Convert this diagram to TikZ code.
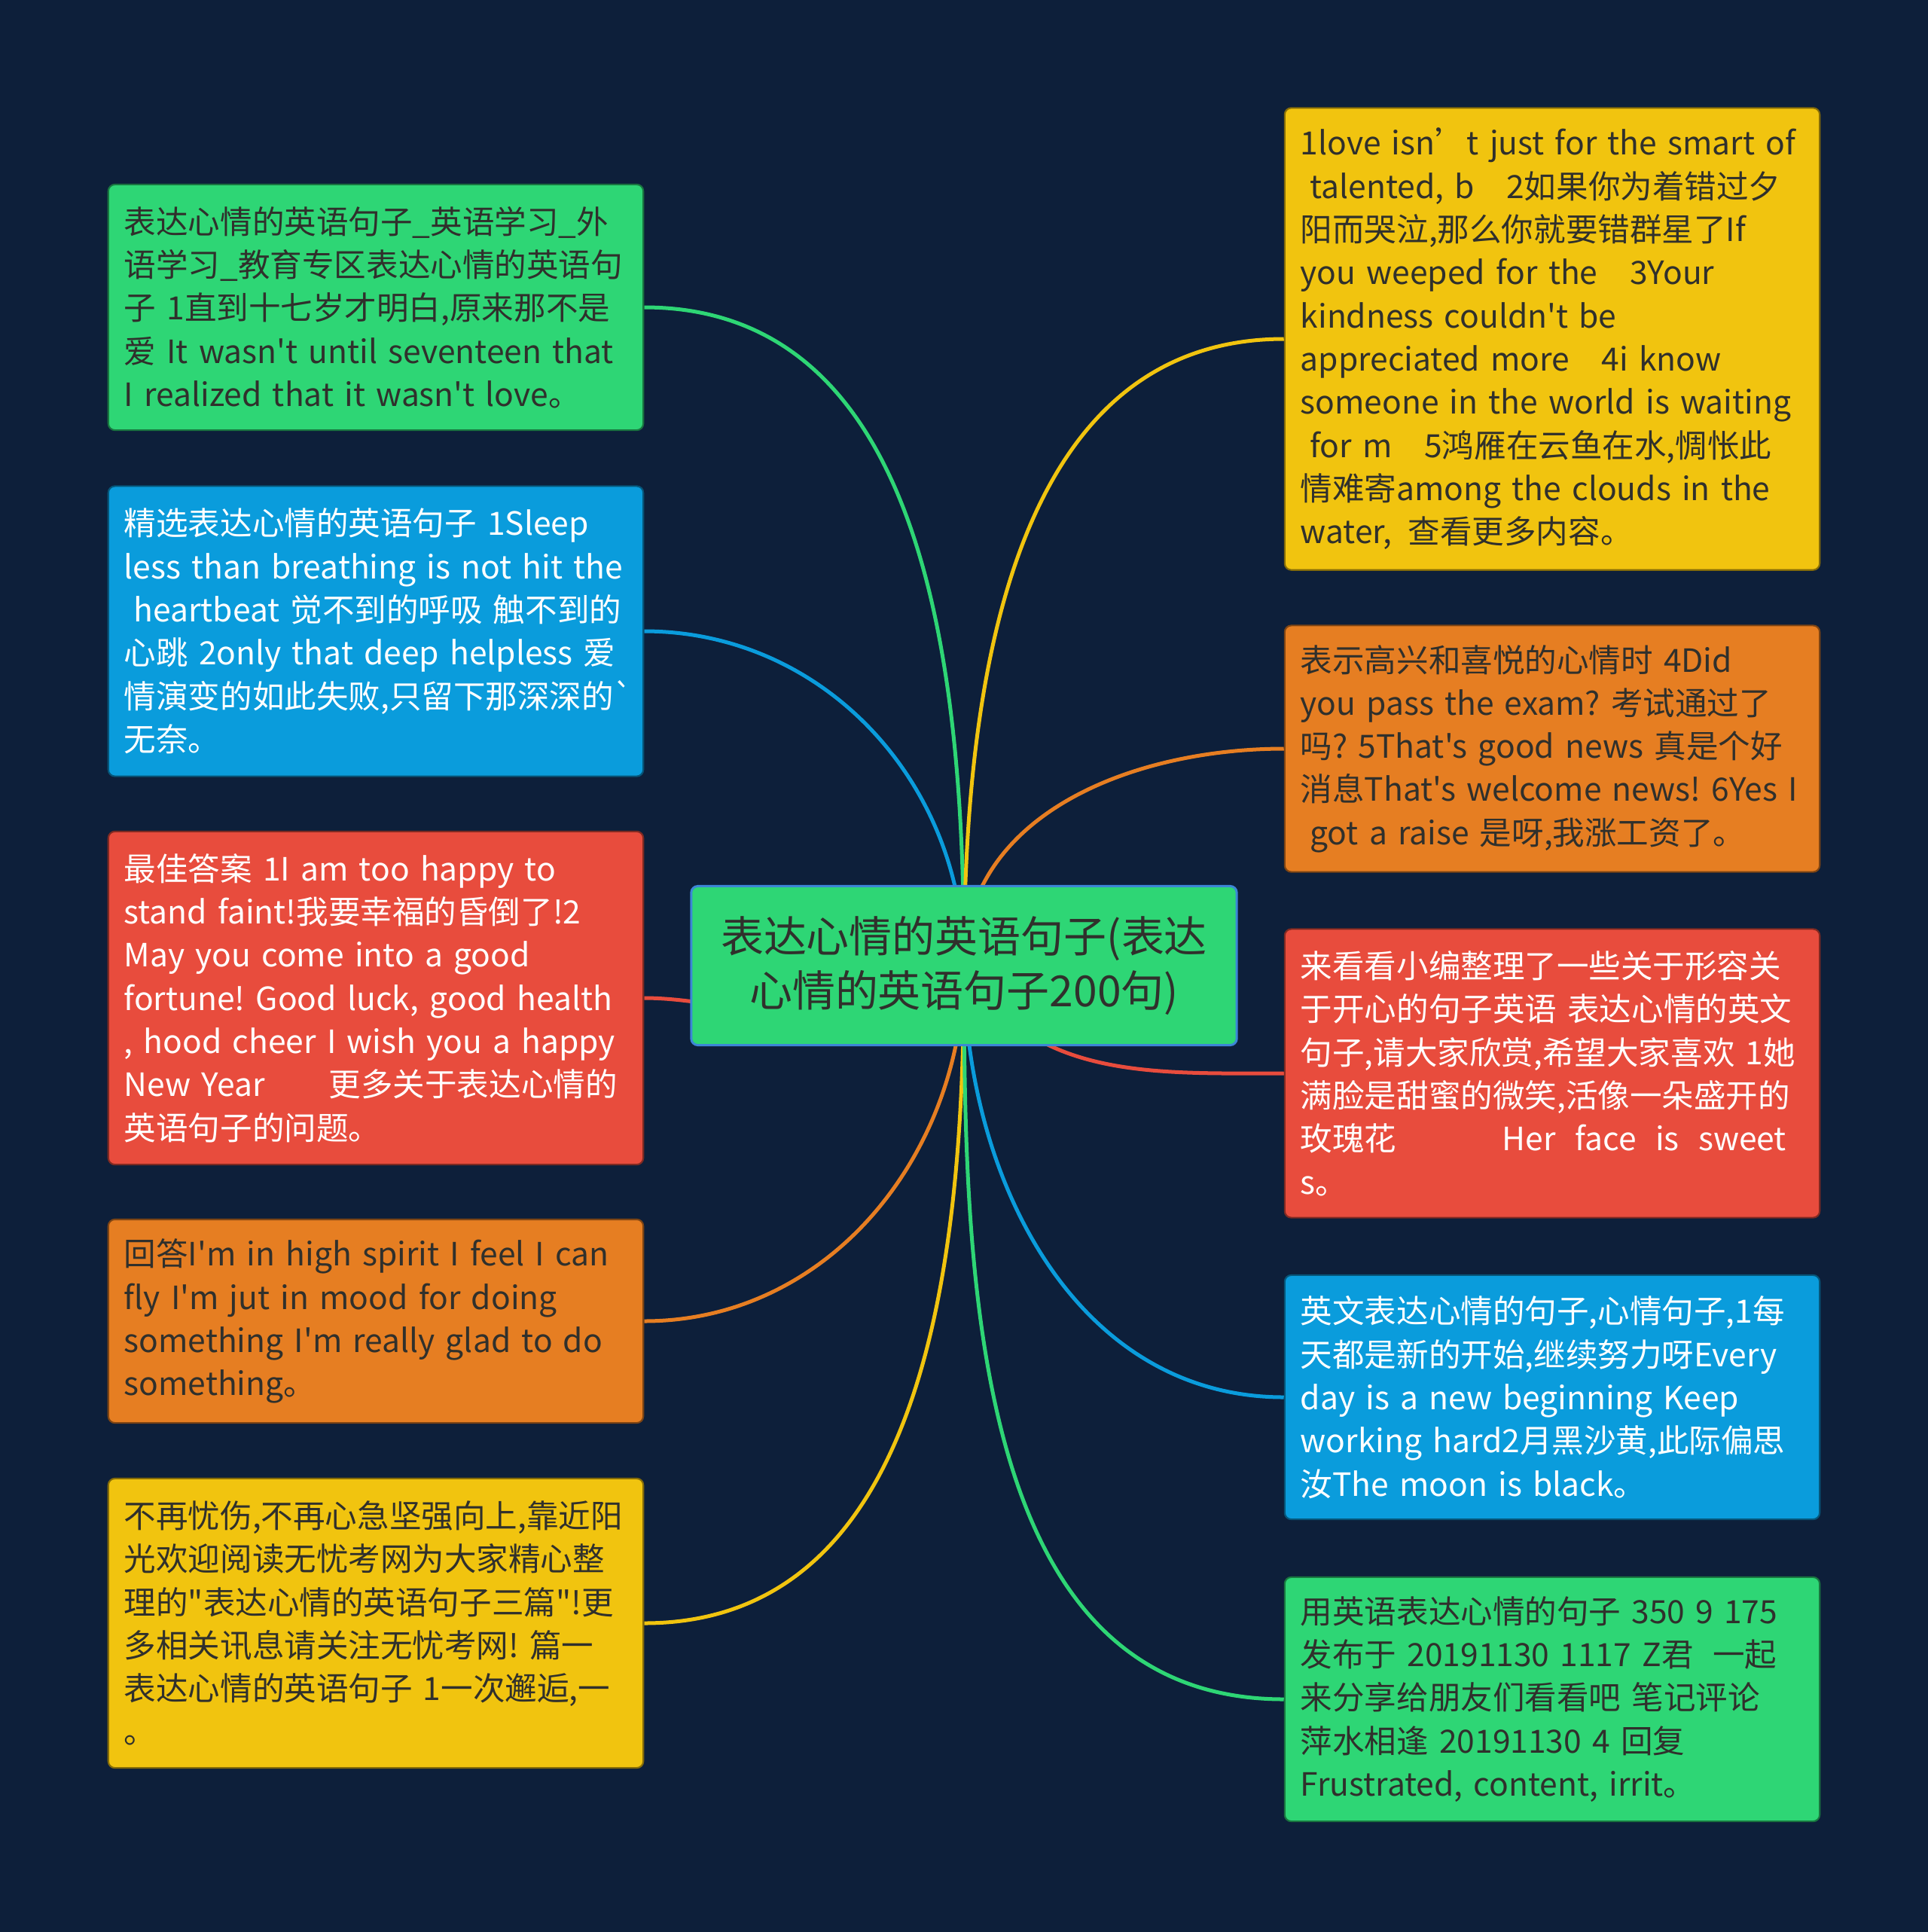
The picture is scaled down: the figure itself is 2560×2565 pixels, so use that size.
\documentclass[tikz,border=0pt]{standalone}
\usepackage{fontspec}
\setmainfont{Noto Sans CJK SC}[Ligatures=TeXOff]
\usepackage{tikz}
\usetikzlibrary{positioning}

\definecolor{nightbg}{RGB}{13,31,58}
\definecolor{mgreen}{RGB}{46,214,117}
\definecolor{mblue}{RGB}{10,156,220}
\definecolor{mred}{RGB}{232,76,61}
\definecolor{morange}{RGB}{230,126,34}
\definecolor{myellow}{RGB}{241,196,15}
\definecolor{darktext}{RGB}{48,48,44}
\definecolor{hubrim}{RGB}{60,134,214}

\newcommand\leaffont{\fontsize{12.1pt}{16.3pt}\selectfont\frenchspacing}
\newcommand\hubfont{\fontsize{16.2pt}{20.5pt}\selectfont}

\pgfdeclarelayer{backdrop}
\pgfsetlayers{backdrop,main}

\tikzset{
  leaf/.style={
    fill=#1,
    draw=#1!55!black,
    line width=0.6pt,
    rounded corners=2.5pt,
    minimum width=7.1cm,
    text width=6.68cm,
    inner xsep=0.21cm,
    inner ysep=0.1cm,
    align=left,
    font=\leaffont
  },
  dark leaf/.style={leaf=#1, text=darktext},
  light leaf/.style={leaf=#1, text=white},
  hub/.style={
    fill=mgreen,
    draw=hubrim,
    line width=0.03cm,
    rounded corners=2.5pt,
    minimum width=7.24cm,
    minimum height=2.11cm,
    align=center,
    text=darktext,
    font=\hubfont
  },
  link/.style={
    draw=#1,
    line width=0.05cm
  }
}

\begin{document}
\begin{tikzpicture}[x=0.01cm,y=-0.01cm]
  \useasboundingbox (0,0) rectangle (2560,2565);
  \begin{pgfonlayer}{backdrop}
    \fill[nightbg] (0,0) rectangle (2560,2565);
  \end{pgfonlayer}

  % central topic
  \node[hub] (hub) at (1280,1282) {表达心情的英语句子(表达\\心情的英语句子200句)};

  % left column
  \node[dark leaf=mgreen, minimum height=3.26cm] (l1) at (499,408) {表达心情的英语句子\_英语学习\_外\\
    语学习\_教育专区表达心情的英语句\\
    子 1直到十七岁才明白,原来那不是\\
    爱 It wasn't until seventeen that\\
    I realized that it wasn't love。};
  \node[light leaf=mblue, minimum height=3.85cm] (l2) at (499,838) {精选表达心情的英语句子 1Sleep\\
    less than breathing is not hit the\\
    \hspace*{0.3em}heartbeat 觉不到的呼吸 触不到的\\
    心跳 2only that deep helpless 爱\\
    情演变的如此失败,只留下那深深的\textasciigrave\\
    无奈。};
  \node[light leaf=mred, minimum height=4.42cm] (l3) at (499,1325) {最佳答案 1I am too happy to\\
    stand faint!我要幸福的昏倒了!2\\
    May you come into a good\\
    fortune! Good luck, good health\\
    , hood cheer I wish you a happy\\
    New Year\hspace{2em}更多关于表达心情的\\
    英语句子的问题。};
  \node[dark leaf=morange, minimum height=2.70cm] (l4) at (499,1754) {回答I'm in high spirit I feel I can\\
    fly I'm jut in mood for doing\\
    something I'm really glad to do\\
    something。};
  \node[dark leaf=myellow, minimum height=3.84cm] (l5) at (499,2155) {不再忧伤,不再心急坚强向上,靠近阳\\
    光欢迎阅读无忧考网为大家精心整\\
    理的"表达心情的英语句子三篇"!更\\
    多相关讯息请关注无忧考网! 篇一\\
    表达心情的英语句子 1一次邂逅,一\\
    。};

  % right column
  \node[dark leaf=myellow, minimum height=6.13cm] (r1) at (2061,450) {1love isn’t~just~for~the~smart~of\\
    \hspace*{0.3em}talented, b\hspace{1em}2如果你为着错过夕\\
    阳而哭泣,那么你就要错群星了If\\
    you weeped for the\hspace{1em}3Your\\
    kindness couldn't be\\
    appreciated more\hspace{1em}4i know\\
    someone in the world is waiting\\
    \hspace*{0.3em}for m\hspace{1em}5鸿雁在云鱼在水,惆怅此\\
    情难寄among the clouds in the\\
    water,\hspace{0.5em}查看更多内容。};
  \node[dark leaf=morange, minimum height=3.27cm] (r2) at (2061,994) {表示高兴和喜悦的心情时 4Did\\
    you pass the exam? 考试通过了\\
    吗? 5That's good news 真是个好\\
    消息That's welcome news! 6Yes I\\
    \hspace*{0.3em}got a raise 是呀,我涨工资了。};
  \node[light leaf=mred, minimum height=3.83cm] (r3) at (2061,1425) {来看看小编整理了一些关于形容关\\
    于开心的句子英语 表达心情的英文\\
    句子,请大家欣赏,希望大家喜欢 1她\\
    满脸是甜蜜的微笑,活像一朵盛开的\\
    玫瑰花\hspace{3.3em}Her\hspace{0.6em}face\hspace{0.6em}is\hspace{0.6em}sweet\\
    s。};
  \node[light leaf=mblue, minimum height=3.24cm] (r4) at (2061,1855) {英文表达心情的句子,心情句子,1每\\
    天都是新的开始,继续努力呀Every\\
    day is a new beginning Keep\\
    working hard2月黑沙黄,此际偏思\\
    汝The moon is black。};
  \node[dark leaf=mgreen, minimum height=3.24cm] (r5) at (2061,2256) {用英语表达心情的句子 350 9 175\\
    发布于 20191130 1117 Z君\hspace{0.6em}一起\\
    来分享给朋友们看看吧 笔记评论\\
    萍水相逢 20191130 4 回复\\
    Frustrated, content, irrit。};

  % branches, kept behind the boxes
  \begin{pgfonlayer}{backdrop}
    \draw[link=mgreen] (hub.center) to[out=90,in=0] (l1.east);
    \draw[link=mblue] (hub.center) to[out=90,in=0] (l2.east);
    \draw[link=mred] (hub.center) to[out=-90,in=0] (l3.east);
    \draw[link=morange] (hub.center) to[out=-90,in=0] (l4.east);
    \draw[link=myellow] (hub.center) to[out=-90,in=0] (l5.east);

    \draw[link=myellow] (hub.center) to[out=90,in=180] (r1.west);
    \draw[link=morange] (hub.center) to[out=90,in=180] (r2.west);
    \draw[link=mred] (hub.center) to[out=-60,in=180] (r3.west);
    \draw[link=mblue] (hub.center) to[out=-90,in=180] (r4.west);
    \draw[link=mgreen] (hub.center) to[out=-90,in=180] (r5.west);
  \end{pgfonlayer}
\end{tikzpicture}
\end{document}
